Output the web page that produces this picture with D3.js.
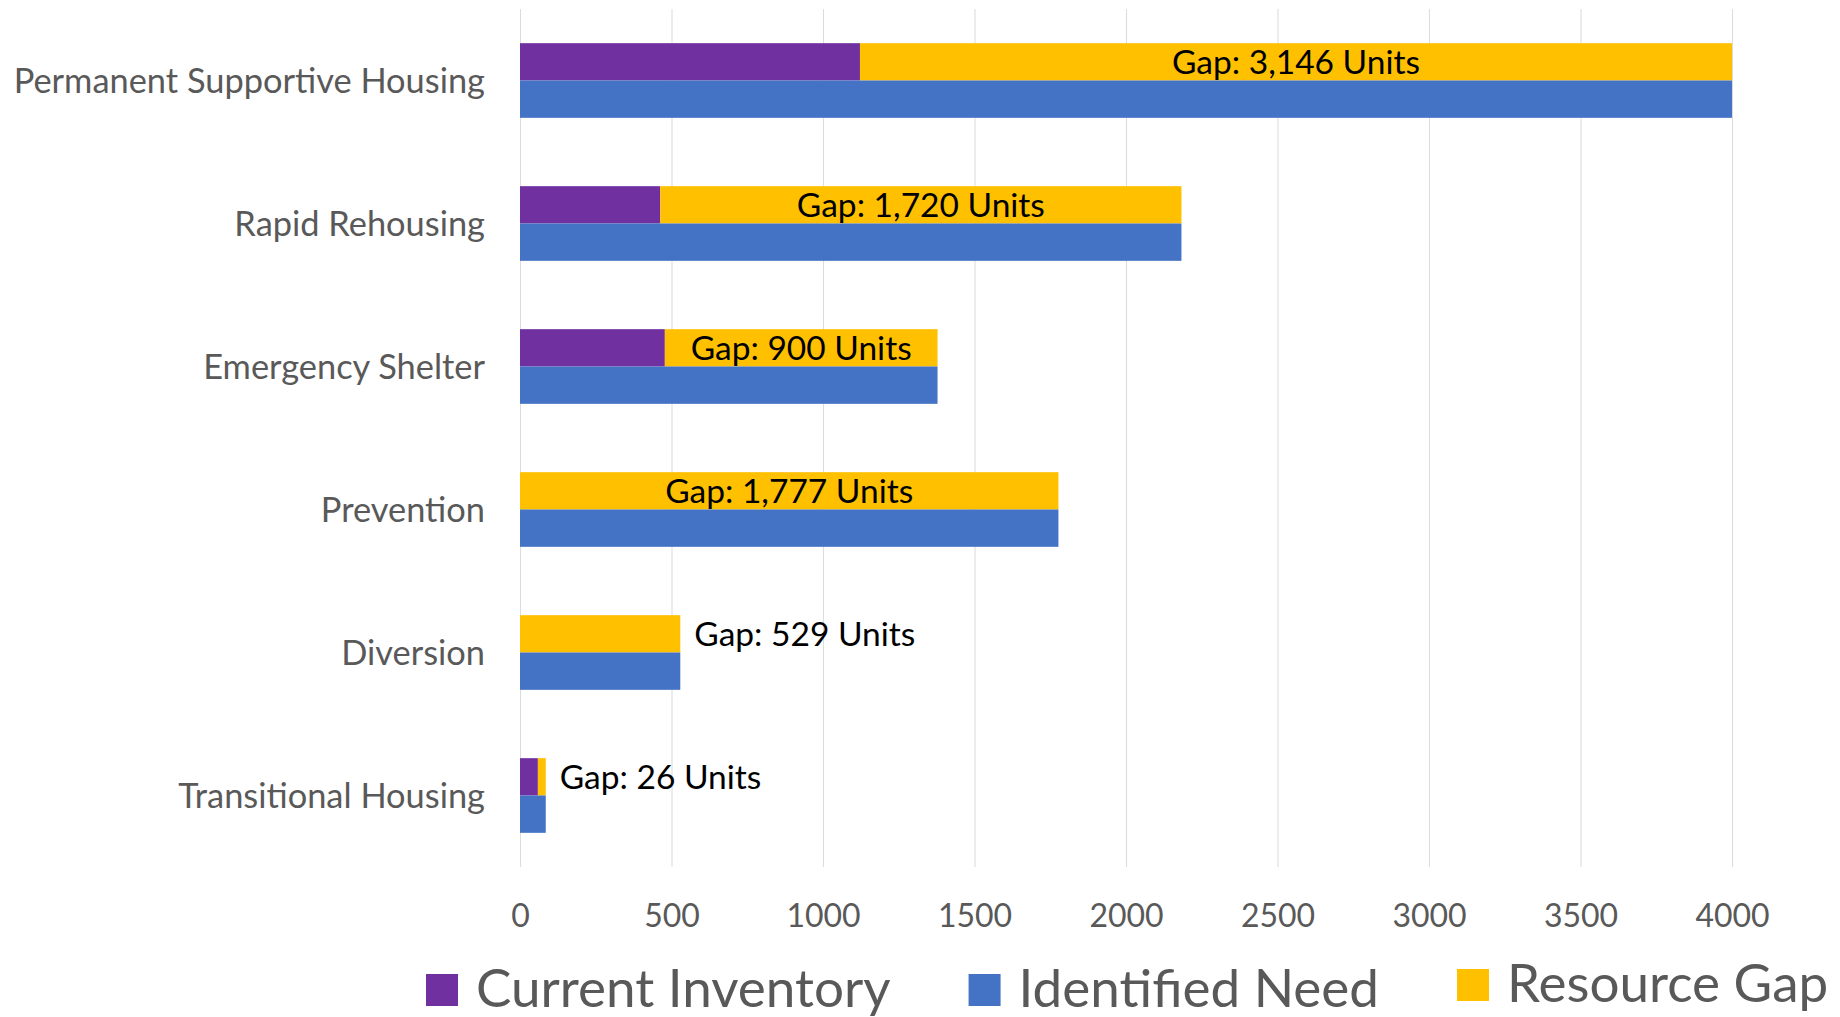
<!DOCTYPE html>
<html>
<head>
<meta charset="utf-8">
<script src="https://cdn.jsdelivr.net/npm/d3@7"></script>
<style>
  body { margin: 0; background: #fff; }
  text { font-family: Lato, "Noto Sans", sans-serif; }
</style>
</head>
<body>
<svg id="chart" width="1840" height="1017"></svg>
<script>
// data
var categories = ["Permanent Supportive Housing", "Rapid Rehousing", "Emergency Shelter",
                  "Prevention", "Diversion", "Transitional Housing"];
var currentInventory = [1122, 463, 478, 0, 0, 59];
var resourceGap = [3146, 1720, 900, 1777, 529, 26];
var identifiedNeed = [4268, 2183, 1378, 1777, 529, 85];
var xTicks = [0, 500, 1000, 1500, 2000, 2500, 3000, 3500, 4000];
var seriesNames = ["Current Inventory", "Identified Need", "Resource Gap"];
var seriesColors = ["#7030A0", "#4472C4", "#FFC000"];

var svg = d3.select("#chart");
var plotLeft = 520, plotRight = 1732, plotTop = 9, plotBottom = 867;

var x = d3.scaleLinear().domain([0, 4000]).range([plotLeft, plotRight]);
var y = d3.scaleBand().domain(categories).range([plotTop, plotBottom])
    .paddingInner(0.478).paddingOuter(0.239);
var half = y.bandwidth() / 2;

var rows = categories.map(function(c, i) {
  return { cat: c, cur: currentInventory[i], gap: resourceGap[i], need: identifiedNeed[i] };
});

// gridlines + tick labels
var xAxis = svg.append("g")
    .attr("transform", "translate(0," + plotBottom + ")")
    .call(d3.axisBottom(x).tickValues(xTicks).tickFormat(d3.format("d"))
      .tickSizeInner(-(plotBottom - plotTop)).tickSizeOuter(0).tickPadding(37));
xAxis.select(".domain").remove();
xAxis.selectAll(".tick line").attr("stroke", "#dcdcdc").attr("stroke-width", 1.1);
xAxis.selectAll(".tick text").attr("fill", "#595959").attr("y", 37)
    .style("font-size", "32px").style("font-family", "Lato, sans-serif");

svg.append("clipPath").attr("id", "plotclip")
  .append("rect").attr("x", plotLeft).attr("y", plotTop)
  .attr("width", plotRight - plotLeft).attr("height", plotBottom - plotTop);

var bars = svg.append("g").attr("clip-path", "url(#plotclip)");

// top bar: current inventory + resource gap stacked
bars.selectAll(".cur").data(rows).enter().append("rect")
    .attr("x", x(0))
    .attr("y", function(d) { return y(d.cat); })
    .attr("width", function(d) { return x(d.cur) - x(0); })
    .attr("height", half)
    .attr("fill", seriesColors[0]);

bars.selectAll(".gap").data(rows).enter().append("rect")
    .attr("x", function(d) { return x(d.cur); })
    .attr("y", function(d) { return y(d.cat); })
    .attr("width", function(d) { return x(d.cur + d.gap) - x(d.cur); })
    .attr("height", half)
    .attr("fill", seriesColors[2]);

// bottom bar: identified need
bars.selectAll(".need").data(rows).enter().append("rect")
    .attr("x", x(0))
    .attr("y", function(d) { return y(d.cat) + half; })
    .attr("width", function(d) { return x(d.need) - x(0); })
    .attr("height", half)
    .attr("fill", seriesColors[1]);

// gap labels: centred in the gold segment if it fits, else just past it
var fmt = d3.format(",");
svg.selectAll(".gaplabel").data(rows).enter().append("text")
    .attr("class", "gaplabel")
    .attr("y", function(d) { return y(d.cat) + half / 2; })
    .attr("dy", "0.36em")
    .style("font-size", "33.5px")
    .attr("fill", "#000")
    .text(function(d) { return "Gap: " + fmt(d.gap) + " Units"; })
    .each(function(d) {
      var w = this.getComputedTextLength();
      var x0 = x(d.cur), x1 = x(Math.min(d.cur + d.gap, 4000));
      if (x1 - x0 > w + 10) {
        d3.select(this).attr("x", (x0 + x1) / 2).attr("text-anchor", "middle");
      } else {
        d3.select(this).attr("x", x1 + 14).attr("text-anchor", "start");
      }
    });

// category labels
svg.selectAll(".catlabel").data(categories).enter().append("text")
    .attr("class", "catlabel")
    .attr("x", plotLeft - 35)
    .attr("y", function(d) { return y(d) + half; })
    .attr("dy", "0.36em")
    .attr("text-anchor", "end")
    .attr("fill", "#595959")
    .style("font-size", "34.4px")
    .text(function(d) { return d; });

// legend
var lx = 426;
seriesNames.forEach(function(name, i) {
  var shift = i == 2 ? -5 : 0;
  svg.append("rect").attr("x", lx).attr("y", 974 + shift)
    .attr("width", 32).attr("height", 32).attr("fill", seriesColors[i]);
  var t = svg.append("text").attr("x", lx + 50).attr("y", 1007 + shift)
    .attr("fill", "#595959").style("font-size", "53px").text(name);
  lx += 50 + t.node().getComputedTextLength() + 78;
});
</script>
</body>
</html>
